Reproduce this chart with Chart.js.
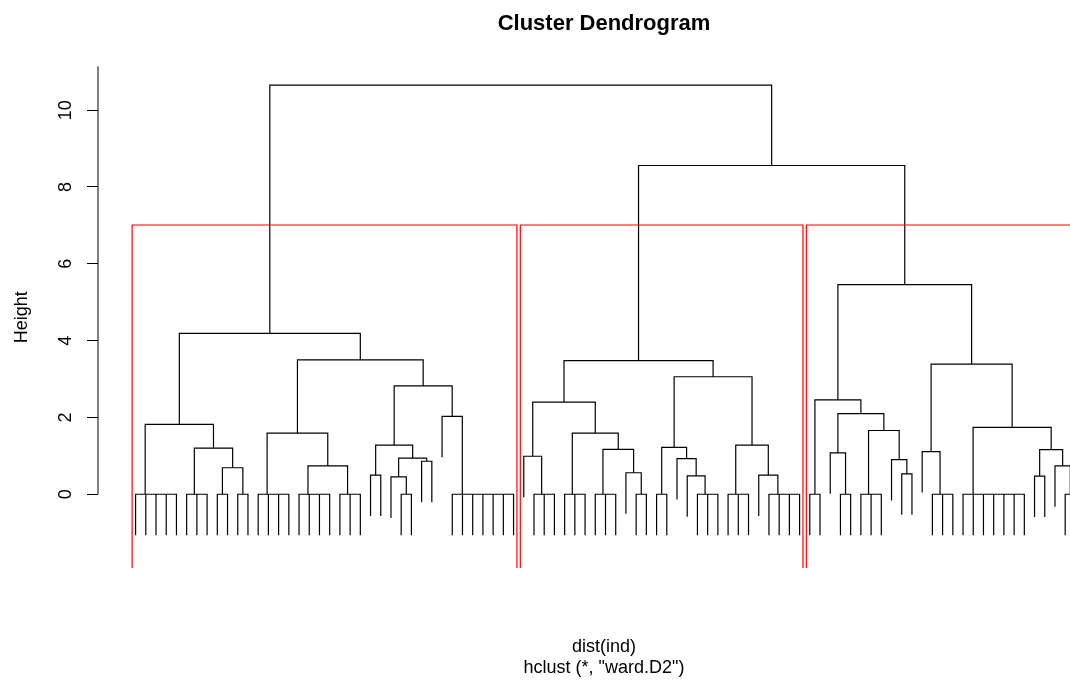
<!DOCTYPE html>
<html>
<head>
<meta charset="utf-8">
<title>Cluster Dendrogram</title>
<script src="https://cdn.jsdelivr.net/npm/chart.js@4/dist/chart.umd.min.js"></script>
<style>
  html, body { margin: 0; padding: 0; overflow: hidden; background: #fff; }
  #wrap { position: relative; width: 1208px; height: 680px; }
</style>
</head>
<body>
<div id="wrap"><canvas id="dendro"></canvas></div>
<script>
// merge heights.
// a node is [height, left, right]; a plain number k is a run of k leaves tied at height 0
const cluster1 = [4.19,
  [1.82, 5, [1.20, 3, [0.69, 2, 2]]],
  [3.50,
    [1.59, 4, [0.74, 4, 3]],
    [2.82,
      [1.28, [0.50, 1, 1], [0.94, [0.45, 1, 2], [0.86, 1, 1]]],
      [2.03, 1, 7]]]];
const cluster2 = [3.48,
  [2.40, [0.99, 1, 3], [1.59, 3, [1.17, 3, [0.56, 1, 2]]]],
  [3.06, [1.22, 2, [0.93, 1, [0.48, 1, 3]]], [1.28, 3, [0.50, 1, 4]]]];
const cluster3 = [5.46,
  [2.46, 2, [2.10, [1.08, 1, 2], [1.66, 3, [0.90, 1, [0.53, 1, 1]]]]],
  [3.39, [1.11, 1, 3], [1.74, 7, [1.16, [0.47, 1, 1], [0.74, 1, 2]]]]];

const rootHeight = 10.65;
const rightHeight = 8.56;   // cluster2 + cluster3
const root = [rootHeight, cluster1, [rightHeight, cluster2, cluster3]];

const yTicks = [0, 2, 4, 6, 8, 10];
const hang = 0.1;
const k = 3;                // rect.hclust(k = 3)


function countLeaves(node) {
  return typeof node === "number" ? node : countLeaves(node[1]) + countLeaves(node[2]);
}

const n = countLeaves(root);
const hangBy = hang * rootHeight;

/* tree -> line segments (null y breaks the line) */
const treeLines = [];
let nextLeaf = 1;

function join(a, b, h) {
  const ya = a.h === null ? h - hangBy : a.h;
  const yb = b.h === null ? h - hangBy : b.h;
  treeLines.push({x: a.x, y: ya}, {x: a.x, y: h}, {x: b.x, y: h}, {x: b.x, y: yb}, {x: b.x, y: null});
  return {x: (a.x + b.x) / 2, h};
}

function tiedRun(count) {
  const leaf = {x: nextLeaf++, h: null};
  return count === 1 ? leaf : join(leaf, tiedRun(count - 1), 0);
}

function place(node) {
  if (typeof node === "number") return tiedRun(node);
  const left = place(node[1]);
  const right = place(node[2]);
  return join(left, right, node[0]);
}

place(root);

/* red boxes round the k clusters */
const heights = [];
(function collect(node) {
  if (typeof node === "number") return;
  heights.push(node[0]);
  collect(node[1]);
  collect(node[2]);
})(root);
heights.sort((a, b) => b - a);
const cutAt = (heights[k - 2] + heights[k - 1]) / 2;

const yMin = -1.92;
const yMax = 11.14;
const xMin = 1 - 0.04 * (n - 1);
const xMax = 105.98;   // plot region runs on past the right edge of the window

const boxLines = [];
let from = 0;
[cluster1, cluster2, cluster3].forEach((c) => {
  const to = from + countLeaves(c);
  boxLines.push(
    {x: from + 0.66, y: yMin}, {x: from + 0.66, y: cutAt},
    {x: to + 0.33, y: cutAt}, {x: to + 0.33, y: yMin}, {x: to + 0.33, y: null}
  );
  from = to;
});


// R only draws the axis line from the first tick upward
const axisLine = {
  id: "axisLine",
  afterDraw(chart) {
    const {ctx, chartArea, scales: {y}} = chart;
    ctx.save();
    ctx.strokeStyle = "#000";
    ctx.lineWidth = 1;
    ctx.beginPath();
    ctx.moveTo(chartArea.left, y.getPixelForValue(yTicks[0]));
    ctx.lineTo(chartArea.left, chartArea.top);
    ctx.stroke();
    ctx.restore();
  }
};

Chart.defaults.font.family = '"Liberation Sans", Arial, sans-serif';
Chart.defaults.color = "#000";

new Chart(document.getElementById("dendro"), {
  type: "line",
  data: {
    datasets: [
      {
        data: boxLines,
        borderColor: "#ff0000",
        borderWidth: 1.2,
        pointRadius: 0,
        spanGaps: false
      },
      {
        data: treeLines,
        borderColor: "#000",
        borderWidth: 1.2,
        pointRadius: 0,
        spanGaps: false
      }
    ]
  },
  options: {
    responsive: true,
    maintainAspectRatio: false,
    animation: false,
    devicePixelRatio: 1,
    layout: { padding: 0 },
    plugins: {
      legend: { display: false },
      tooltip: { enabled: false },
      title: {
        display: true,
        text: "Cluster Dendrogram",
        font: { size: 22, weight: "bold" },
        padding: { top: 11, bottom: 29 }
      },
      subtitle: {
        display: true,
        position: "bottom",
        text: ["dist(ind)", 'hclust (*, "ward.D2")'],
        font: { size: 18, lineHeight: 1.1667 },
        padding: { top: 68.5, bottom: 1.5 }
      }
    },
    scales: {
      x: {
        type: "linear",
        display: false,
        min: xMin,
        max: xMax
      },
      y: {
        min: yMin,
        max: yMax,
        afterBuildTicks: (s) => { s.ticks = yTicks.map((v) => ({ value: v })); },
        afterFit: (s) => { s.width = 98; },
        border: { display: false },
        grid: { drawOnChartArea: false, drawTicks: true, tickLength: 11, color: "#000" },
        ticks: {
          minRotation: 90,
          maxRotation: 90,
          crossAlign: "center",
          padding: 11,
          autoSkip: false,
          font: { size: 18 }
        },
        title: {
          display: true,
          text: "Height",
          font: { size: 18 },
          padding: { top: 11, bottom: 0 }
        }
      }
    }
  },
  plugins: [axisLine]
});
</script>
</body>
</html>
